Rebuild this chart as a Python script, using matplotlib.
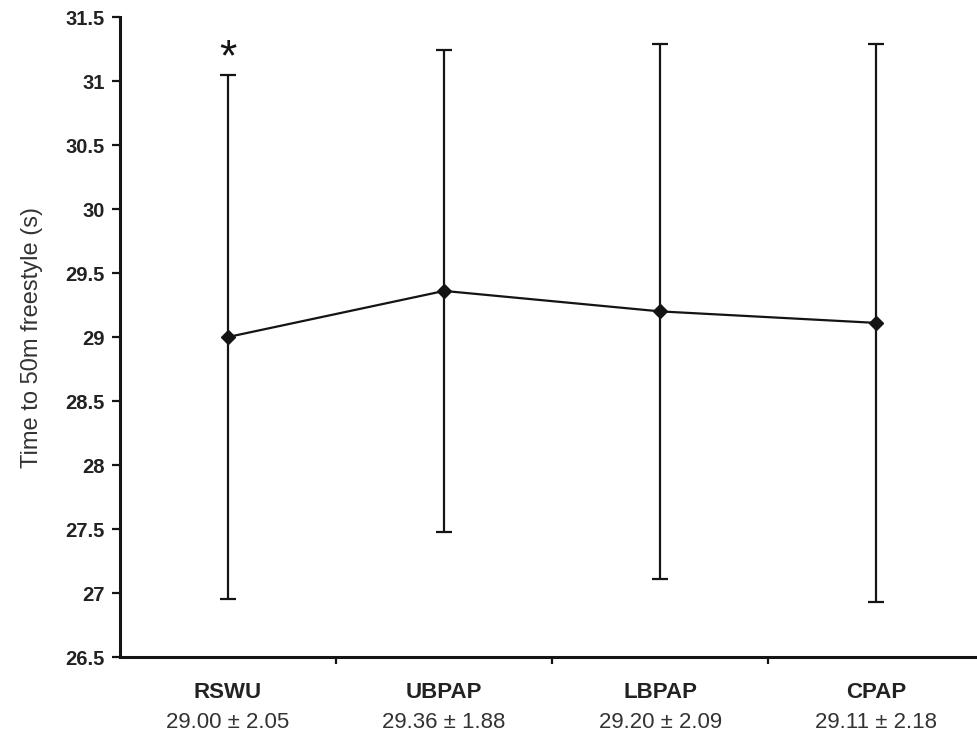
import matplotlib
matplotlib.use("Agg")
import matplotlib.pyplot as plt
import numpy as np

plt.rcParams['font.family'] = ['Liberation Sans', 'DejaVu Sans']

conditions = ['RSWU', 'UBPAP', 'LBPAP', 'CPAP']
means = [29.00, 29.36, 29.20, 29.11]
sds = [2.05, 1.88, 2.09, 2.18]
y_ticks = [26.5, 27, 27.5, 28, 28.5, 29, 29.5, 30, 30.5, 31, 31.5]
y_ticklabels = ['26.5', '27', '27.5', '28', '28.5', '29', '29.5', '30', '30.5', '31', '31.5']

INK = '#141414'

fig = plt.figure(figsize=(9.78, 7.36), dpi=100)
ax = fig.add_axes([120/978, 79/736, 858/978, 640/736])

x = np.arange(len(conditions))
ax.errorbar(x, means, yerr=sds, color=INK, lw=1.6, elinewidth=1.6,
            capsize=6, capthick=1.6, marker='D', markersize=7.5,
            markerfacecolor=INK, markeredgecolor=INK)

ax.set_xlim(-0.5, 3.47)
ax.set_ylim(26.5, 31.5)

# spines
ax.spines.right.set_visible(False)
ax.spines.top.set_visible(False)
ax.spines.left.set_linewidth(2.2)
ax.spines.bottom.set_linewidth(2.2)
ax.spines.left.set_color(INK)
ax.spines.bottom.set_color(INK)

# y axis
ax.set_yticks(y_ticks)
ax.set_yticklabels(y_ticklabels, fontsize=14.5, fontweight='bold', color='#222222')
ax.tick_params(axis='y', length=6, width=1.6, color=INK, pad=5)
ax.set_ylabel('Time to 50m freestyle (s)', fontsize=17, color='#333333', labelpad=16)

# x axis: ticks between groups, labels as text
ax.set_xticks([0.5, 1.5, 2.5])
ax.set_xticklabels([])
ax.tick_params(axis='x', length=5, width=1.6, color=INK)

trans = ax.get_xaxis_transform()
for i, (name, m, s) in enumerate(zip(conditions, means, sds)):
    ax.text(i, -0.055, name, transform=trans, ha='center', va='center',
            fontsize=16, fontweight='bold', color='#222222')
    ax.text(i, -0.102, f'{m:.2f} \u00b1 {s:.2f}', transform=trans, ha='center',
            va='center', fontsize=16, color='#333333')

# significance marker
ax.text(0, means[0] + sds[0] + 0.12, '*', ha='center', va='center',
        fontsize=32, color=INK)

fig.savefig('out.png', dpi=100)
